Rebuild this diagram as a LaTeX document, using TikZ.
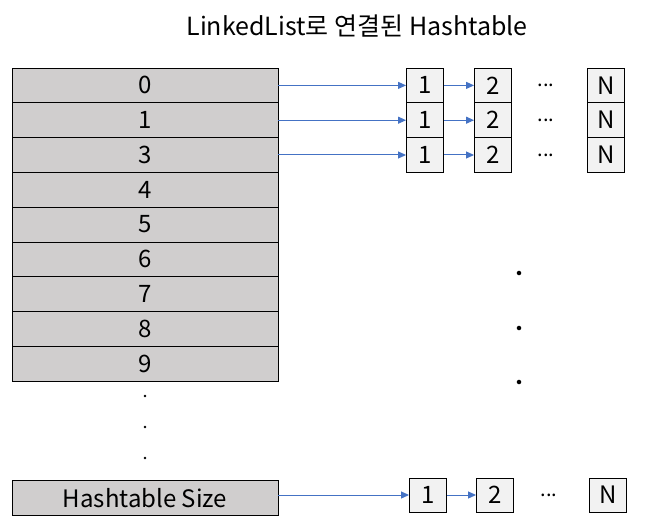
\documentclass[tikz,border=0pt]{standalone}
\usepackage{fontspec}
\setmainfont{Noto Sans CJK KR}
\usepackage{tikz}
\usetikzlibrary{positioning,arrows.meta}
\definecolor{slotgray}{RGB}{208,206,206}
\definecolor{elemgray}{RGB}{242,242,242}
\definecolor{linkblue}{RGB}{68,114,196}
\tikzstyle{slot} = [draw,fill=slotgray,minimum width=266pt,minimum height=34.8pt,inner sep=0pt,line width=0.9pt,font=\fontsize{24}{24}\selectfont]
\tikzstyle{elem} = [draw,fill=elemgray,minimum width=37pt,minimum height=34.6pt,inner sep=0pt,line width=0.9pt,font=\fontsize{24}{24}\selectfont]
\tikzstyle{link} = [linkblue,line width=1pt,arrows={-Triangle[length=8pt,width=7pt]}]
\tikzstyle{gap} = [font=\fontsize{20}{20}\selectfont]

\begin{document}
\begin{tikzpicture}[x=1pt,y=-1pt]
		\useasboundingbox (0,0) rectangle (651,532);
		\node (title) at (357,26) [font=\fontsize{25}{25}\selectfont] {LinkedList로 연결된 Hashtable};

		% table slots
		\node (s0)[slot] at (145,85.4) {0};
		\node (s1)[slot] at (145,120.2) {1};
		\node (s3)[slot] at (145,155) {3};
		\node (s4)[slot] at (145,189.8) {4};
		\node (s5)[slot] at (145,224.6) {5};
		\node (s6)[slot] at (145,259.4) {6};
		\node (s7)[slot] at (145,294.2) {7};
		\node (s8)[slot] at (145,329) {8};
		\node (s9)[slot] at (145,363.8) {9};
		\node (sn)[slot] at (145,498) {Hashtable Size};

		\foreach \y in {396,427,458}
			\node at (145,\y) [circle,fill,inner sep=1pt]{};

		% lists
		\foreach \r/\y in {0/85.4,1/120.2,3/155} {
			\node (a\r)[elem] at (425,\y) {1};
			\node (b\r)[elem] at (493,\y) {2};
			\node (d\r)[gap] at (546,\y) {...};
			\node (n\r)[elem] at (606,\y) {N};
			\draw[link] (s\r) -- (a\r);
			\draw[link] (a\r) -- (b\r);
		}
		\node (an)[elem,minimum height=34pt] at (428,495) {1};
		\node (bn)[elem,minimum height=34pt] at (495,495) {2};
		\node (dn)[gap] at (549,495) {...};
		\node (nn)[elem,minimum height=34pt] at (608,495) {N};
		\draw[link] (sn.east |- an) -- (an);
		\draw[link] (an) -- (bn);

		\foreach \y in {273,328,382}
			\node at (519,\y) [circle,fill,inner sep=1.6pt]{};
	\end{tikzpicture}
\end{document}
